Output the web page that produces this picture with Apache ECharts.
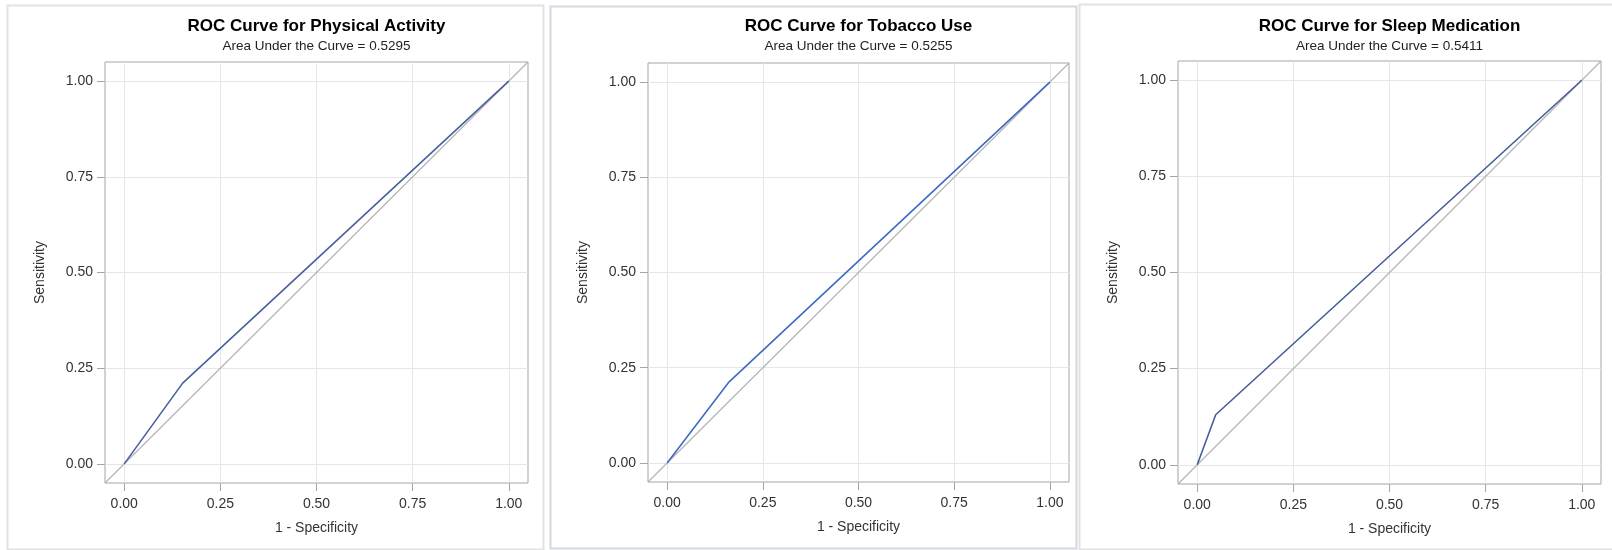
<!DOCTYPE html>
<html>
<head>
<meta charset="utf-8">
<script src="https://cdn.jsdelivr.net/npm/echarts@6/dist/echarts.min.js"></script>
<style>
html,body{margin:0;padding:0;background:#fff;}
#chart{width:1612px;height:550px;}
</style>
</head>
<body>
<div id="chart"></div>
<script>
// ---- data ----
const panelTitles = ['ROC Curve for Physical Activity', 'ROC Curve for Tobacco Use', 'ROC Curve for Sleep Medication'];
const aucValues = ['0.5295', '0.5255', '0.5411'];
const physicalFpr = [0, 0.152, 1];
const physicalTpr = [0, 0.211, 1];
const tobaccoFpr = [0, 0.162, 1];
const tobaccoTpr = [0, 0.213, 1];
const sleepFpr = [0, 0.048, 1];
const sleepTpr = [0, 0.130, 1];
const refLine = [-0.05, 1.05];
const tickValues = [0, 0.25, 0.5, 0.75, 1];
const tickLabels = ['0.00', '0.25', '0.50', '0.75', '1.00'];
const xAxisTitle = '1 - Specificity';
const yAxisTitle = 'Sensitivity';

// ---- layout / style ----
const FONT = '"Liberation Sans", Arial, sans-serif';
const grids = [
  {left: 105, top: 62, width: 423, height: 421},
  {left: 648, top: 63, width: 421, height: 419},
  {left: 1178, top: 61, width: 423, height: 423}
];
const curveColors = ['#4a5f9e', '#3d6bc4', '#475d9b'];
const fprs = [physicalFpr, tobaccoFpr, sleepFpr];
const tprs = [physicalTpr, tobaccoTpr, sleepTpr];
const boxes = [
  {x: 7, y: 5, w: 536, h: 544, c: '#e2e2e2'},
  {x: 550, y: 6, w: 526, h: 542, c: '#d4d8e0'},
  {x: 1079, y: 4, w: 540, h: 545, c: '#e2e2e2'}
];

function fmt(v) {
  const i = tickValues.findIndex(t => Math.abs(t - v) < 1e-9);
  return i >= 0 ? tickLabels[i] : '';
}

const option = {
  backgroundColor: '#fff',
  animation: false,
  title: [],
  grid: [],
  xAxis: [],
  yAxis: [],
  series: [],
  graphic: boxes.map(b => ({
    type: 'rect', silent: true, z: -10,
    shape: {x: b.x + 0.5, y: b.y + 0.5, width: b.w, height: b.h},
    style: {fill: 'none', stroke: b.c, lineWidth: 2}
  }))
};

grids.forEach((g, i) => {
  option.grid.push({left: g.left, top: g.top, width: g.width, height: g.height,
    show: true, borderColor: '#a4a4a4', borderWidth: 1, backgroundColor: 'transparent', containLabel: false});
  option.title.push({
    text: panelTitles[i],
    subtext: 'Area Under the Curve = ' + aucValues[i],
    left: g.left + g.width / 2, top: 18, textAlign: 'center', padding: 0, itemGap: 4,
    textStyle: {fontFamily: FONT, fontSize: 17, fontWeight: 'bold', color: '#000'},
    subtextStyle: {fontFamily: FONT, fontSize: 13.5, color: '#222'}
  });
  const axisCommon = {
    type: 'value', gridIndex: i, min: -0.05, max: 1.05,
    axisLine: {show: false, onZero: false},
    axisTick: {show: true, length: 8, inside: false, customValues: tickValues, lineStyle: {color: '#a4a4a4'}},
    axisLabel: {customValues: tickValues, formatter: fmt, fontFamily: FONT, fontSize: 14, color: '#333'},
    splitLine: {show: true, lineStyle: {color: '#e6e6e6', width: 1}},
    nameLocation: 'middle',
    nameTextStyle: {fontFamily: FONT, fontSize: 14, color: '#333'}
  };
  option.xAxis.push(Object.assign({}, axisCommon, {
    name: xAxisTitle, nameGap: 38,
    axisLabel: Object.assign({}, axisCommon.axisLabel, {margin: 14})
  }));
  option.yAxis.push(Object.assign({}, axisCommon, {
    name: yAxisTitle, nameGap: 58,
    axisLabel: Object.assign({}, axisCommon.axisLabel, {margin: 12})
  }));
  option.series.push({
    type: 'line', xAxisIndex: i, yAxisIndex: i, symbol: 'none', silent: true,
    data: refLine.map(v => [v, v]),
    lineStyle: {color: '#b4b4b4', width: 1.2}, z: 2
  });
  option.series.push({
    type: 'line', xAxisIndex: i, yAxisIndex: i, symbol: 'none', silent: true,
    data: fprs[i].map((x, k) => [x, tprs[i][k]]),
    lineStyle: {color: curveColors[i], width: 1.6}, z: 3
  });
});

const chart = echarts.init(document.getElementById('chart'), null, {renderer: 'canvas'});
chart.setOption(option);
</script>
</body>
</html>
